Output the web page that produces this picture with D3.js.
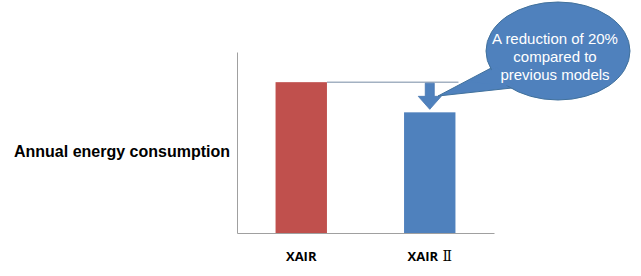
<!DOCTYPE html>
<html>
<head>
<meta charset="utf-8">
<script src="https://cdn.jsdelivr.net/npm/d3@7"></script>
<style>
  body { margin: 0; background: #fff; }
  svg { display: block; }
</style>
</head>
<body>
<div id="chart"></div>
<script>
// chart data
const categories = ["XAIR", "XAIR Ⅱ"];
const values = [100, 80];
const yLabel = "Annual energy consumption";
const calloutLines = ["A reduction of 20%", "compared to", "previous models"];

const W = 641, H = 276;
const margin = { top: 52, right: 147, bottom: 43, left: 237 };

const svg = d3.select("#chart")
  .append("svg")
  .attr("width", W)
  .attr("height", H);

const x = d3.scaleBand()
  .domain(categories)
  .range([margin.left, W - margin.right])
  .paddingInner(0.6)
  .paddingOuter(0.3);

const y = d3.scaleLinear()
  .domain([0, 120])
  .range([H - margin.bottom, margin.top]);

const color = d3.scaleOrdinal()
  .domain(categories)
  .range(["#c0504d", "#4f81bd"]);

// bars
svg.append("g").selectAll("rect")
  .data(categories)
  .join("rect")
  .attr("x", d => x(d))
  .attr("width", x.bandwidth())
  .attr("y", (d, i) => y(values[i]))
  .attr("height", (d, i) => y(0) - y(values[i]))
  .attr("fill", d => color(d));

// axes, no ticks
const yAxis = svg.append("g")
  .attr("transform", "translate(" + margin.left + ",0)")
  .call(d3.axisLeft(y).tickValues([]).tickSizeOuter(0));
yAxis.select(".domain").attr("stroke", "#a0a0a0");

const xAxis = svg.append("g")
  .attr("transform", "translate(0," + y(0) + ")")
  .call(d3.axisBottom(x).tickSize(0).tickPadding(19).tickSizeOuter(0));
xAxis.select(".domain").attr("stroke", "#a0a0a0");
xAxis.selectAll("text")
  .attr("fill", "#000")
  .style("font-family", "'Open Sans', 'Noto Sans CJK JP', sans-serif")
  .style("font-weight", "bold")
  .style("font-size", "13px")
  .text(null)
  .each(function (d) {
    // roman numeral drawn in a serif face like the original
    const parts = d.split(" ");
    const t = d3.select(this);
    t.append("tspan").text(parts[0]);
    if (parts[1]) {
      t.append("tspan")
        .text(" " + parts[1])
        .style("font-family", "'DejaVu Serif', 'Noto Sans CJK JP', serif")
        .style("font-weight", "normal")
        .style("font-size", "14px");
    }
  });

// y label
svg.append("text")
  .attr("x", 230)
  .attr("y", 157)
  .attr("text-anchor", "end")
  .style("font-family", "'Liberation Sans', Arial, sans-serif")
  .style("font-weight", "bold")
  .style("font-size", "16px")
  .text(yLabel);

// reference line at the old level
const x0 = x(categories[0]), x1 = x(categories[1]), bw = x.bandwidth();
svg.append("line")
  .attr("x1", x0 + bw)
  .attr("x2", x1 + bw + 3)
  .attr("y1", y(values[0]))
  .attr("y2", y(values[0]))
  .attr("stroke", "#a3b1c2")
  .attr("stroke-width", 1.5);

// down arrow
const ax = x1 + bw / 2;
const aTop = y(values[0]) + 1, aTip = y(values[1]) - 3;
const headH = 13, shaft = 4.5, head = 11.5;
const arrow = d3.path();
arrow.moveTo(ax - shaft, aTop);
arrow.lineTo(ax + shaft, aTop);
arrow.lineTo(ax + shaft, aTip - headH);
arrow.lineTo(ax + head, aTip - headH);
arrow.lineTo(ax, aTip);
arrow.lineTo(ax - head, aTip - headH);
arrow.lineTo(ax - shaft, aTip - headH);
arrow.closePath();
svg.append("path")
  .attr("d", arrow)
  .attr("fill", "#4f81bd")
  .attr("stroke", "#4575b0")
  .attr("stroke-width", 0.8);

// callout bubble
const callout = svg.append("g");
const tail = [[438, 96], [493, 67], [512, 88]];
callout.append("path")
  .attr("d", d3.line()(tail) + "Z")
  .attr("fill", "#4f81bd")
  .attr("stroke", "#41719c")
  .attr("stroke-width", 1);
callout.append("ellipse")
  .attr("cx", 558)
  .attr("cy", 51)
  .attr("rx", 72)
  .attr("ry", 49)
  .attr("fill", "#4f81bd")
  .attr("stroke", "#41719c")
  .attr("stroke-width", 1);
callout.append("path")
  .attr("d", d3.line()([[470, 82], [497, 67], [514, 86]]) + "Z")
  .attr("fill", "#4f81bd");

callout.selectAll("text")
  .data(calloutLines)
  .join("text")
  .attr("x", 555)
  .attr("y", (d, i) => 44 + i * 18)
  .attr("text-anchor", "middle")
  .attr("fill", "#fff")
  .style("font-family", "'Liberation Sans', Arial, sans-serif")
  .style("font-size", "15px")
  .text(d => d);
</script>
</body>
</html>
